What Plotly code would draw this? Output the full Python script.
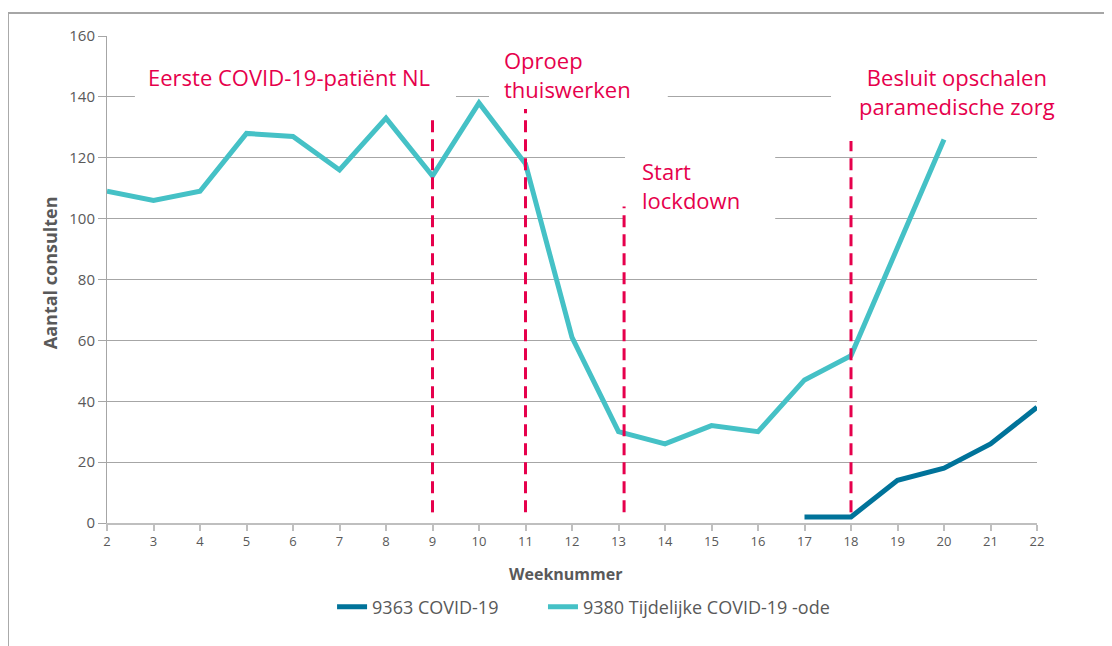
import plotly.graph_objects as go

# ---- data ----
weeks_ode = [2, 3, 4, 5, 6, 7, 8, 9, 10, 11, 12, 13, 14, 15, 16, 17, 18, 19, 20]
vals_ode = [109, 106, 109, 128, 127, 116, 133, 114, 138, 118, 61, 30, 26, 32, 30, 47, 55, 90, 126]

weeks_covid = [17, 18, 19, 20, 21, 22]
vals_covid = [2, 2, 14, 18, 26, 38]

name_covid = "9363 COVID-19"
name_ode = "9380 Tijdelijke COVID-19 -ode"

event_weeks = [9, 11, 13.12, 18]
event_tops = [134, 136, 104, 125.5]
event_bottom = 3.5

x_ticks = list(range(2, 23))
y_ticks = [0, 20, 40, 60, 80, 100, 120, 140, 160]

FONT = "Open Sans"
GREY = "#595959"
RED = "#E6004C"
TEAL = "#45C1C6"
BLUE = "#00739A"

fig = go.Figure()

fig.add_trace(go.Scatter(x=weeks_covid, y=vals_covid, mode="lines", name=name_covid,
                         line=dict(color=BLUE, width=5), legend="legend"))
fig.add_trace(go.Scatter(x=weeks_ode, y=vals_ode, mode="lines", name=name_ode,
                         line=dict(color=TEAL, width=5), legend="legend2"))

for wk, top in zip(event_weeks, event_tops):
    fig.add_trace(go.Scatter(x=[wk, wk], y=[event_bottom, top], mode="lines",
                             showlegend=False, hoverinfo="skip",
                             line=dict(color=RED, width=3, dash="12px,7px")))

# white boxes hiding gridlines behind the labels
boxes = [
    (2.60, 9.505, 138.3, 154.7),
    (10.215, 14.06, 137.6, 157.0),
    (13.14, 16.37, 97.9, 122.5),
    (17.57, 22.3, 130.7, 152.0),
]
for x0, x1, y0, y1 in boxes:
    fig.add_shape(type="rect", xref="x", yref="y", x0=x0, x1=x1, y0=y0, y1=y1,
                  fillcolor="white", line=dict(width=0), layer="between")
# faded part of the top gridline behind the first label
fig.add_shape(type="rect", xref="x", yref="y", x0=2.60, x1=9.505, y0=159.4, y1=160.6,
              fillcolor="rgba(255,255,255,0.7)", line=dict(width=0), layer="between")

# outer frame (top and left edges)
fig.add_shape(type="line", xref="paper", yref="paper", x0=-0.1065, x1=1.09, y0=1.0472, y1=1.0472,
              line=dict(color="#A6A6A6", width=2))
fig.add_shape(type="line", xref="paper", yref="paper", x0=-0.1065, x1=-0.1065, y0=-0.26, y1=1.0472,
              line=dict(color="#A6A6A6", width=2))

afont = dict(family=FONT, size=22, color=RED)
fig.add_annotation(x=5.91, y=146.5, xref="x", yref="y", text="Eerste COVID-19-patiënt NL",
                   showarrow=False, font=afont, xanchor="center", yanchor="middle")
fig.add_annotation(x=10.49, y=147.3, xref="x", yref="y", text="Oproep<br>thuiswerken",
                   showarrow=False, font=afont, xanchor="left", yanchor="middle", align="left")
fig.add_annotation(x=13.46, y=111, xref="x", yref="y", text="Start<br>lockdown",
                   showarrow=False, font=afont, xanchor="left", yanchor="middle", align="left")
fig.add_annotation(x=20.27, y=141.8, xref="x", yref="y", text="Besluit opschalen<br>paramedische zorg",
                   showarrow=False, font=afont, xanchor="center", yanchor="middle", align="center")

# axis titles
fig.add_annotation(x=-0.0613, y=0.515, xref="paper", yref="paper", text="<b>Aantal consulten</b>",
                   textangle=-90, showarrow=False, xanchor="center", yanchor="middle",
                   font=dict(family=FONT, size=18, color=GREY))
fig.add_annotation(x=0.4925, y=-0.1047, xref="paper", yref="paper", text="<b>Weeknummer</b>",
                   showarrow=False, xanchor="center", yanchor="middle",
                   font=dict(family=FONT, size=16, color=GREY))

fig.update_xaxes(range=[2, 22], tickmode="array", tickvals=x_ticks, ticktext=[str(v) for v in x_ticks],
                 showgrid=False, zeroline=False, showline=True, linecolor="#BFBFBF", linewidth=1.5,
                 ticks="outside", ticklen=6, tickcolor="#BFBFBF", tickwidth=1.5,
                 tickfont=dict(family=FONT, size=13, color=GREY))
fig.update_yaxes(range=[0, 160], tickmode="array", tickvals=y_ticks, ticktext=[str(v) for v in y_ticks],
                 showgrid=True, gridcolor="#A6A6A6", gridwidth=1, zeroline=False,
                 showline=True, linecolor="#A6A6A6", linewidth=1,
                 ticks="outside", ticklen=8, tickcolor="#A6A6A6",
                 tickfont=dict(family=FONT, size=15, color=GREY))

legend_common = dict(orientation="h", yanchor="middle", y=-0.1725, xanchor="left",
                     font=dict(family=FONT, size=18, color=GREY), itemwidth=30,
                     bgcolor="rgba(0,0,0,0)")
fig.update_layout(
    width=1104, height=638,
    margin=dict(l=99, r=75, t=28, b=123),
    paper_bgcolor="white", plot_bgcolor="white",
    font=dict(family=FONT, color=GREY),
    legend=dict(legend_common, x=0.242),
    legend2=dict(legend_common, x=0.4688),
    showlegend=True,
)

fig.write_html("out.html")
